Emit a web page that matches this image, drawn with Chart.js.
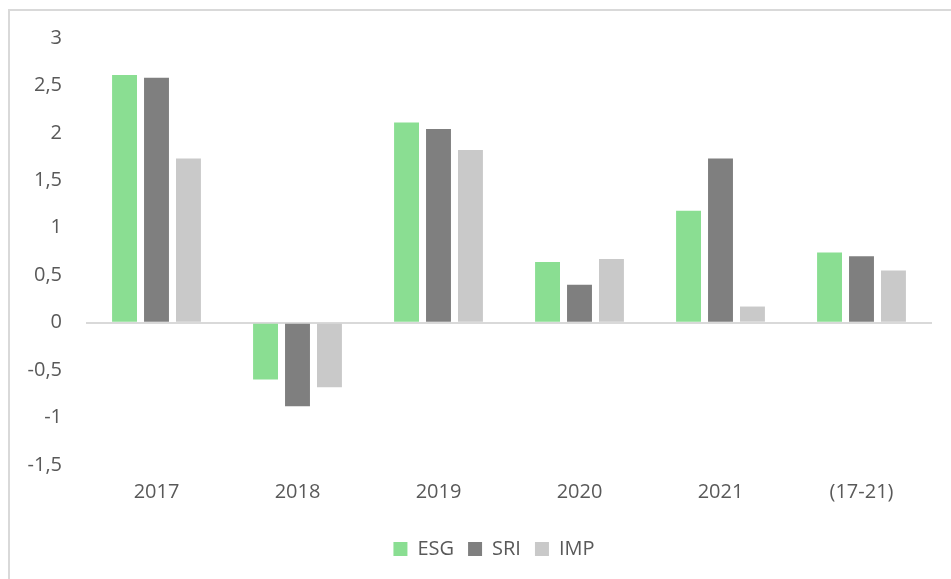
<!DOCTYPE html>
<html>
<head>
<meta charset="utf-8">
<script src="https://cdn.jsdelivr.net/npm/chart.js@4"></script>
<style>
  html, body { margin: 0; padding: 0; background: #fff; }
  #wrap { position: relative; width: 951px; height: 579px; overflow: hidden; }
  #frame { position: absolute; left: 8px; top: 9px; width: 1000px; height: 700px;
           border-left: 2px solid #d9d9d9; border-top: 2px solid #d9d9d9; }
  #chart { position: absolute; left: 0; top: 0; }
</style>
</head>
<body>
<div id="wrap">
  <div id="frame"></div>
  <canvas id="chart" width="951" height="579"></canvas>
</div>
<script>
// yearly returns per fund type, last group is the 2017-2021 average
const categories = ["2017", "2018", "2019", "2020", "2021", "(17-21)"];
const esg = [2.61, -0.60, 2.11, 0.64, 1.18, 0.74];
const sri = [2.58, -0.88, 2.04, 0.40, 1.73, 0.70];
const imp = [1.73, -0.68, 1.82, 0.67, 0.17, 0.55];
const yTicks = [-1.5, -1, -0.5, 0, 0.5, 1, 1.5, 2, 2.5, 3];

const textColor = "#595959";
const fontFamily = "'Open Sans', sans-serif";

function commaNum(v) {
    return String(v).replace(".", ",");
}

// nudge the legend row to the right of the canvas centre
const legendShift = {
    id: 'legendShift',
    afterLayout: function (chart) {
        chart.legend.left += 28;
        chart.legend.right += 28;
    }
};

var ctx = document.getElementById('chart').getContext('2d');
var chart = new Chart(ctx, {
    type: 'bar',
    data: {
        labels: categories,
        datasets: [
            { label: "ESG", data: esg, backgroundColor: "#8ade92" },
            { label: "SRI", data: sri, backgroundColor: "#7f7f7f" },
            { label: "IMP", data: imp, backgroundColor: "#c9c9c9" }
        ]
    },
    plugins: [legendShift],
    options: {
        responsive: false,
        animation: false,
        datasets: {
            bar: { categoryPercentage: 0.68, barPercentage: 0.78 }
        },
        layout: { padding: { top: 38, right: 19, bottom: 10, left: 0 } },
        plugins: {
            tooltip: { enabled: false },
            legend: {
                position: 'bottom',
                labels: {
                    color: textColor,
                    font: { family: fontFamily, size: 20 },
                    boxWidth: 14,
                    boxHeight: 14,
                    padding: 14
                }
            }
        },
        scales: {
            x: {
                grid: { display: false, drawTicks: false },
                border: { display: false },
                ticks: {
                    color: textColor,
                    font: { family: fontFamily, size: 20 },
                    padding: 15,
                    maxRotation: 0
                },
                afterFit: function (scale) { scale.height += 6; }
            },
            y: {
                min: -1.5,
                max: 3,
                afterBuildTicks: function (scale) {
                    scale.ticks = yTicks.map(function (v) { return { value: v }; });
                },
                afterFit: function (scale) { scale.width = 86; },
                border: { display: false },
                grid: {
                    drawTicks: false,
                    color: function (c) { return c.tick && c.tick.value === 0 ? "#d9d9d9" : "rgba(0,0,0,0)"; },
                    lineWidth: function (c) { return c.tick && c.tick.value === 0 ? 2 : 0; }
                },
                ticks: {
                    color: textColor,
                    font: { family: fontFamily, size: 20 },
                    padding: 24,
                    callback: function (v) { return commaNum(v); }
                }
            }
        }
    }
});
</script>
</body>
</html>
